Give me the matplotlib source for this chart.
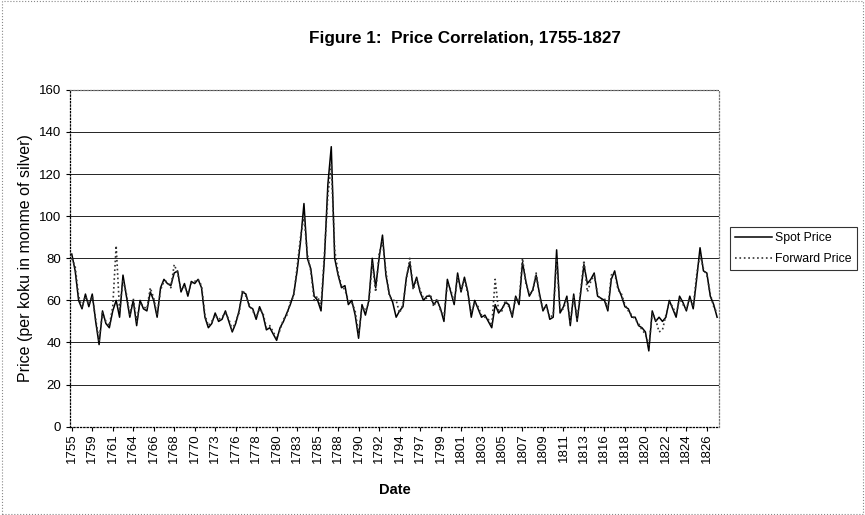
import numpy as np
import matplotlib.pyplot as plt
from matplotlib import font_manager
from matplotlib.patches import Rectangle

plt.rcParams['font.family'] = ['Liberation Sans', 'DejaVu Sans']

# ------------------------------------
# prices read off the chart, one value per observation
spot = [82, 74, 60, 56, 63, 57, 63, 50, 39, 55,
        49, 47, 55, 60, 52, 72, 62, 52, 60, 48,
        60, 56, 55, 64, 60, 52, 66, 70, 68, 67,
        73, 74, 64, 68, 62, 69, 68, 70, 66, 52,
        47, 49, 54, 50, 51, 55, 50, 45, 49, 55,
        64, 63, 57, 56, 51, 57, 53, 46, 47, 44,
        41, 47, 50, 54, 58, 63, 74, 88, 106, 80,
        75, 62, 60, 55, 80, 115, 133, 80, 72, 66,
        67, 58, 60, 53, 42, 58, 53, 60, 80, 66,
        80, 91, 72, 63, 59, 52, 55, 57, 71, 78,
        66, 71, 64, 60, 62, 62, 58, 60, 56, 50,
        70, 64, 58, 73, 64, 71, 64, 52, 60, 56,
        52, 53, 50, 47, 58, 54, 56, 59, 58, 52,
        62, 58, 78, 69, 62, 65, 72, 63, 55, 58,
        51, 52, 84, 54, 57, 62, 48, 63, 50, 63,
        77, 68, 70, 73, 62, 61, 60, 55, 70, 74,
        66, 62, 57, 56, 52, 52, 48, 47, 45, 36,
        55, 50, 52, 50, 52, 60, 56, 52, 62, 59,
        55, 62, 56, 70, 85, 74, 73, 62, 58, 52]
forward = [80, 76, 62, 57, 62, 58, 62, 51, 41, 54,
           50, 48, 57, 86, 55, 70, 63, 53, 61, 50,
           59, 57, 56, 66, 61, 53, 65, 69, 69, 66,
           77, 73, 65, 67, 63, 68, 69, 70, 67, 53,
           48, 50, 53, 51, 52, 54, 51, 46, 50, 54,
           65, 62, 58, 55, 52, 56, 54, 47, 48, 45,
           42, 46, 51, 53, 59, 62, 76, 90, 100, 82,
           74, 60, 62, 57, 82, 110, 125, 84, 73, 67,
           65, 60, 59, 55, 44, 57, 55, 59, 78, 64,
           82, 88, 74, 62, 60, 60, 54, 58, 70, 80,
           65, 70, 65, 61, 61, 63, 57, 61, 55, 52,
           68, 65, 59, 71, 65, 70, 63, 54, 59, 57,
           53, 52, 51, 48, 70, 55, 55, 60, 57, 53,
           61, 59, 80, 68, 63, 64, 73, 62, 56, 57,
           52, 53, 80, 55, 56, 61, 50, 62, 51, 64,
           79, 64, 69, 72, 63, 60, 61, 56, 72, 73,
           65, 63, 58, 55, 53, 51, 49, 46, 44, 38,
           54, 51, 45, 46, 53, 59, 57, 53, 61, 58,
           56, 61, 57, 72, 82, 75, 72, 63, 57, 54]

tick_years = [1755, 1759, 1761, 1764, 1766, 1768, 1770, 1773, 1776, 1778,
              1780, 1783, 1785, 1788, 1790, 1792, 1794, 1797, 1799, 1801,
              1803, 1805, 1807, 1809, 1811, 1813, 1816, 1818, 1820, 1822,
              1824, 1826]

# narrow face for title / legend if there is one
names = {f.name for f in font_manager.fontManager.ttflist}
if 'Liberation Sans Narrow' in names:
    narrow, title_size, leg_size = 'Liberation Sans Narrow', 14, 10.5
else:
    narrow, title_size, leg_size = 'Liberation Sans', 12.3, 8.8

# ------------------------------------
fig = plt.figure(figsize=(8.65, 5.15), dpi=100)
ax = fig.add_axes([0.081, 0.1715, 0.75, 0.654])

x = np.arange(len(spot))
ax.plot(x, spot, c='black', lw=1.1, label='Spot Price')
ax.plot(x, forward, c='#333333', lw=1.2, ls=':', label='Forward Price')

ax.set_xlim(-0.5, len(spot) - 0.5)
ax.set_ylim(0, 160)
ax.set_yticks(range(0, 161, 20))
ax.set_xticks(np.arange(len(tick_years)) * 6)
ax.set_xticklabels([str(y) for y in tick_years], rotation=90, fontsize=9.5)
ax.tick_params(axis='y', labelsize=9.5, length=3, width=0.8)
ax.tick_params(axis='x', length=3, width=0.8, pad=2)
ax.grid(axis='y', c='black', lw=0.6)
ax.set_axisbelow(True)
for s in ax.spines.values():
    s.set_color('#777777')
    s.set_linestyle(':')
    s.set_linewidth(0.9)
ax.spines['left'].set_color('black')
ax.spines['bottom'].set_color('black')

ax.set_xlabel('Date', fontsize=10.5, fontweight='bold', labelpad=14)
ax.set_ylabel('Price (per koku in monme of silver)', fontsize=11.5, labelpad=4)

fig.text(0.537, 0.925, 'Figure 1:  Price Correlation, 1755-1827', ha='center', va='center',
         fontsize=title_size, fontweight='bold', family=[narrow, 'DejaVu Sans'])

leg = ax.legend(loc='upper left', bbox_to_anchor=(730 / 865, 1 - 227 / 515),
                bbox_transform=fig.transFigure, frameon=True, fancybox=False,
                edgecolor='black', prop={'family': [narrow, 'DejaVu Sans'], 'size': leg_size},
                handlelength=3.0, borderpad=0.4, labelspacing=0.75, handletextpad=0.3,
                borderaxespad=0)
leg.get_frame().set_linewidth(0.8)

fig.patches.append(Rectangle((0.002, 0.002), 0.996, 0.996, transform=fig.transFigure,
                             fill=False, ec='#888888', lw=0.8, ls=':'))

plt.savefig('out.png', dpi=100)
